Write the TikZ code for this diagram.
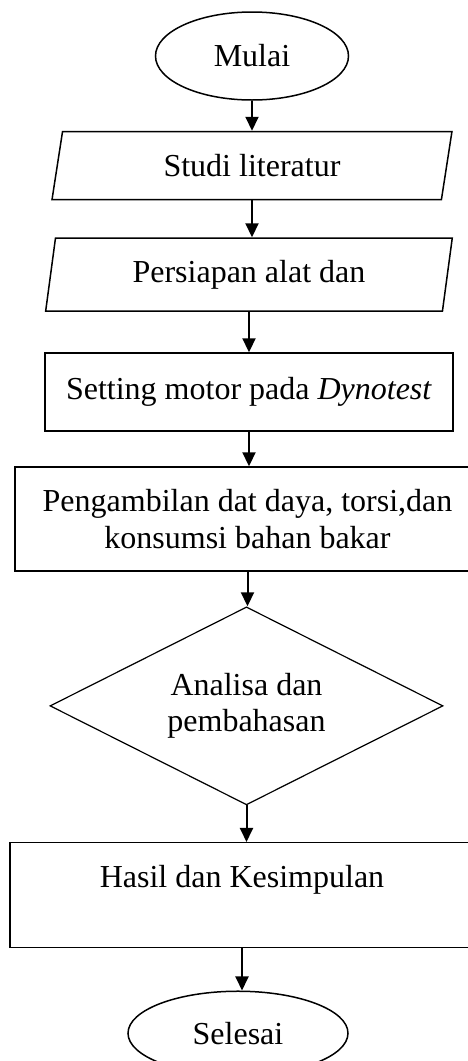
\documentclass[tikz,border=0pt]{standalone}
\usepackage{fontspec}
\setmainfont{Liberation Serif}
\usetikzlibrary{shapes.geometric,positioning,arrows.meta}

\begin{document}
\begin{tikzpicture}[x=1pt,y=1pt,node distance=34.5pt,
    font=\fontsize{32}{36.8}\selectfont,
    >={Triangle[length=14pt,width=13pt]},
    term/.style={ellipse,draw,line width=1.5pt,minimum width=193pt,minimum height=88pt,inner sep=0pt},
    io/.style={trapezium,draw,line width=1.5pt,trapezium stretches=true,inner sep=0pt},
    proc/.style={rectangle,draw,line width=1.5pt,align=center},
    decision/.style={diamond,draw,line width=1.2pt,align=center,aspect=2,minimum width=393pt,minimum height=198pt,inner sep=0pt}]
  \useasboundingbox (0,0) rectangle (468,-1061);

  \node[term] (mulai) at (252,-56) {Mulai};
  \node[io,trapezium left angle=77.7,trapezium right angle=102.3,
        minimum width=400pt,minimum height=68pt] (studi) [below=30pt of mulai] {Studi literatur};
  \node[io,trapezium left angle=78.5,trapezium right angle=101.5,
        minimum width=408pt,minimum height=73pt] (persiapan) [below=37pt of studi,xshift=-3pt] {Persiapan alat dan};
  \node[proc,minimum width=408pt,minimum height=78pt] (setting) [below=40.5pt of persiapan] {Setting motor pada \textit{Dynotest}};
  \node[proc,minimum width=465pt,minimum height=104pt] (ambil) [below=of setting,xshift=-1.5pt] {Pengambilan dat daya, torsi,dan\\konsumsi bahan bakar};
  \node[decision] (analisa) [below=of ambil,xshift=-1pt] {Analisa dan\\pembahasan};
  \node[proc,minimum width=464pt,minimum height=105pt] (hasil) [below=36.5pt of analisa,xshift=-4.5pt] {Hasil dan Kesimpulan\\\mbox{}};
  \node[term,minimum width=220pt,minimum height=84pt] (selesai) [below=42pt of hasil,xshift=-4pt] {Selesai};

  \path[->,line width=2pt]
    (mulai.south) edge (mulai.south |- studi.north)
    (studi.south) edge (studi.south |- persiapan.north)
    (persiapan.south) edge (persiapan.south |- setting.north)
    (setting.south) edge (setting.south |- ambil.north)
    (ambil.south) edge (ambil.south |- analisa.north)
    (analisa.south) edge (analisa.south |- hasil.north)
    (hasil.south) edge (hasil.south |- selesai.north);
\end{tikzpicture}
\end{document}
